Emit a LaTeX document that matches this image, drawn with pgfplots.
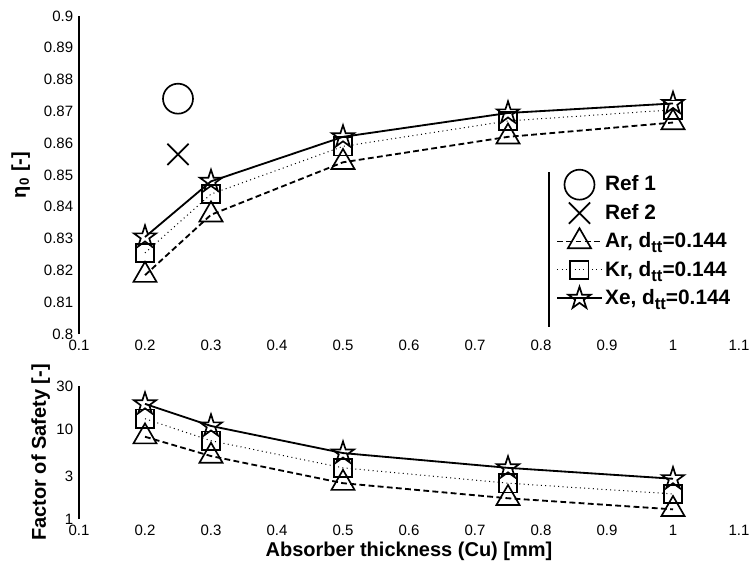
\documentclass[border=0pt]{standalone}
\usepackage{pgfplots}
\pgfplotsset{compat=1.18}
\usepackage{fontspec}
\setmainfont{Liberation Sans}
\usetikzlibrary{plotmarks}
\pgfdeclareplotmark{pentagram}{%
  \pgfpathmoveto{\pgfpointpolar{90}{\pgfplotmarksize}}%
  \pgfpathlineto{\pgfpointpolar{126}{0.382\pgfplotmarksize}}%
  \pgfpathlineto{\pgfpointpolar{162}{\pgfplotmarksize}}%
  \pgfpathlineto{\pgfpointpolar{198}{0.382\pgfplotmarksize}}%
  \pgfpathlineto{\pgfpointpolar{234}{\pgfplotmarksize}}%
  \pgfpathlineto{\pgfpointpolar{270}{0.382\pgfplotmarksize}}%
  \pgfpathlineto{\pgfpointpolar{306}{\pgfplotmarksize}}%
  \pgfpathlineto{\pgfpointpolar{342}{0.382\pgfplotmarksize}}%
  \pgfpathlineto{\pgfpointpolar{18}{\pgfplotmarksize}}%
  \pgfpathlineto{\pgfpointpolar{54}{0.382\pgfplotmarksize}}%
  \pgfpathclose\pgfusepathqstroke}
\newcommand{\tts}{\raisebox{-0.45ex}{\fontsize{10}{10}\selectfont tt}}

\pgfplotstableread{
x     ar     kr     xe
0.2   0.8185 0.8255 0.8305
0.3   0.8375 0.8440 0.8480
0.5   0.8540 0.8590 0.8620
0.75  0.8620 0.8670 0.8695
1.0   0.8665 0.8705 0.8725
}\etatable
\pgfplotstableread{
x     ar     kr     xe
0.2   8.2    13.0   19.0
0.3   5.0    7.4    10.8
0.5   2.5    3.7    5.4
0.75  1.7    2.5    3.7
1.0   1.28   1.9    2.8
}\fostable

\begin{document}
\begin{tikzpicture}
\path[use as bounding box] (-47.4pt,-138pt) rectangle (404.4pt,200.4pt);
\pgfplotsset{
  common/.style={
    scale only axis, width=396pt,
    xmin=0.1, xmax=1.1,
    xtick={0.1,0.2,0.3,0.4,0.5,0.6,0.7,0.8,0.9,1.0,1.1},
    xticklabels={0.1,0.2,0.3,0.4,0.5,0.6,0.7,0.8,0.9,1,1.1},
    ticklabel style={font=\fontsize{9}{10}\selectfont},
    /pgf/number format/assume math mode=true,
    axis line style={draw=none},
    tick style={draw=none},
    clip=false,
    label style={font=\bfseries\fontsize{12}{14}\selectfont},
  },
  arstyle/.style={black, line width=1.1pt, dash pattern=on 3.5pt off 2pt, mark=triangle, mark size=8pt, mark options={solid, line width=1pt, fill=none}},
  krstyle/.style={black, line width=0.6pt, dotted, mark=square, mark size=5.5pt, mark options={solid, line width=1pt, fill=none}},
  xestyle/.style={black, line width=1.1pt, mark=pentagram, mark size=7pt, mark options={solid, line width=1pt, fill=none}},
}
\begin{axis}[common, name=top, at={(0,0)}, anchor=south west, height=190.8pt,
  ymin=0.8, ymax=0.9,
  ytick={0.8,0.81,0.82,0.83,0.84,0.85,0.86,0.87,0.88,0.89,0.9},
  yticklabels={0.8,0.81,0.82,0.83,0.84,0.85,0.86,0.87,0.88,0.89,0.9},
  ylabel={η\textsubscript{0} [-]},
  ylabel style={yshift=1.5pt},
  legend style={at={(rel axis cs:0.7215,0.514)}, anchor=north west, draw=none, fill=none,
    font=\bfseries\fontsize{12.5}{14}\selectfont, row sep=2.5pt, inner sep=1pt},
  legend cell align=left,
  legend image code/.code={%
    \begin{pgfinterruptboundingbox}
    \draw[mark repeat=2,mark phase=2,#1] plot coordinates {(0cm,0cm) (0.47cm,0cm) (0.94cm,0cm)};
    \end{pgfinterruptboundingbox}
    \pgfpathrectangle{\pgfpoint{0cm}{-2pt}}{\pgfpoint{0.94cm}{4pt}}\pgfusepath{discard}},
]
\draw[line width=0.8pt] (rel axis cs:0,0) -- (rel axis cs:0,1);
\draw[line width=0.8pt] (rel axis cs:0.712,0.509) -- (rel axis cs:0.712,0.022);
\addplot[only marks, mark=o, mark size=9pt, line width=1pt] coordinates {(0.25,0.874)};
\addlegendentry{Ref 1}
\addplot[only marks, mark=x, mark size=9pt, line width=1pt] coordinates {(0.25,0.8565)};
\addlegendentry{Ref 2}
\addplot[arstyle] table[x=x, y=ar] {\etatable};
\addlegendentry{Ar, d\tts=0.144}
\addplot[krstyle] table[x=x, y=kr] {\etatable};
\addlegendentry{Kr, d\tts=0.144}
\addplot[xestyle] table[x=x, y=xe] {\etatable};
\addlegendentry{Xe, d\tts=0.144}
\end{axis}
\begin{axis}[common, at={(0,-31.2pt)}, anchor=north west, height=79.8pt,
  ymode=log, ymin=1, ymax=30,
  ytick={1,3,10,30}, yticklabels={1,3,10,30},
  ylabel={Factor of Safety [-]},
  ylabel style={yshift=-3pt},
  xlabel={Absorber thickness (Cu) [mm]},
  xlabel style={yshift=3pt},
]
\draw[line width=0.8pt] (rel axis cs:0,0) -- (rel axis cs:0,1);
\addplot[arstyle] table[x=x, y=ar] {\fostable};
\addplot[krstyle] table[x=x, y=kr] {\fostable};
\addplot[xestyle] table[x=x, y=xe] {\fostable};
\end{axis}
\end{tikzpicture}
\end{document}
